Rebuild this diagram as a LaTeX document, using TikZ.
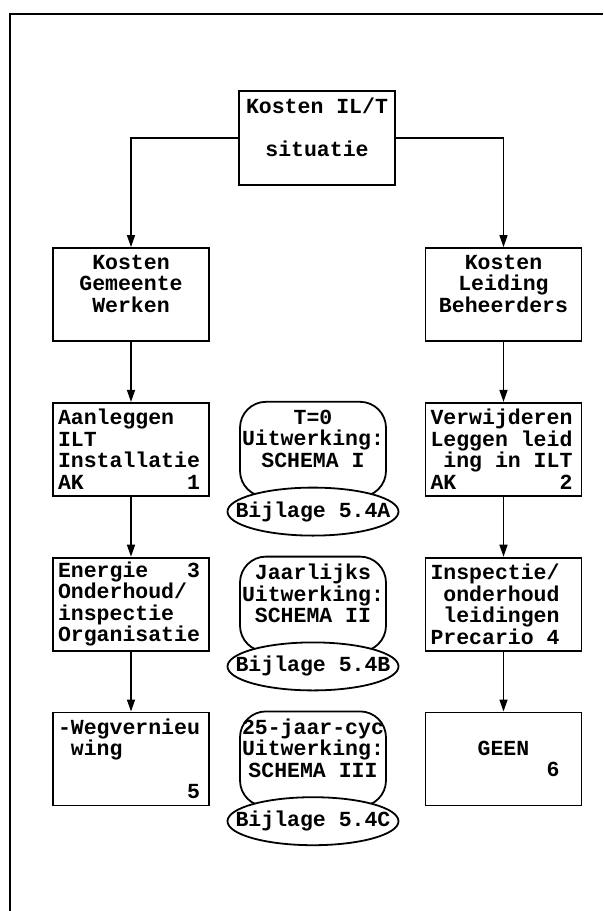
\documentclass[tikz,border=0pt]{standalone}
\usepackage{fontspec}
\setmonofont{Liberation Mono}
\usetikzlibrary{shapes.geometric,arrows.meta,positioning}
% blank typewriter cells
\newcommand\pad[1]{\hspace*{#1\fontcharwd\font`0}}

\begin{document}
\begin{tikzpicture}[x=1pt,y=-1pt,font=\ttfamily\bfseries\fontsize{21.5}{21.5}\selectfont]
  \tikzset{costbox/.style={draw,line width=1.8pt,minimum width=156pt,minimum height=#1,inner xsep=5pt,inner ysep=0pt,text width=146pt},
    costbox/.default=93pt,
    bubble/.style={draw,line width=1.8pt,rounded corners=26pt,minimum width=146pt,minimum height=95pt,inner sep=0pt,align=center},
    annex/.style={draw,fill=white,ellipse,line width=1.8pt,minimum width=171pt,minimum height=48pt,inner sep=0pt},
    arr/.style={-{Triangle[width=8pt,length=12pt]},line width=1.5pt}}
  \useasboundingbox (0,0) rectangle (603,911);
  % frame
  \draw[line width=2pt] (10,911) |- (603,14);
  % top and first row
  \node[costbox=94pt,align=center] (top) at (317,138) {Kosten\pad{1}IL/T\\\mbox{}\\situatie\\\mbox{}};
  \node[costbox,align=center] (gw) at (131,294.5) {Kosten\\Gemeente\\Werken\\\mbox{}};
  \node[costbox,align=center] (lb) at (503.5,294.5) {Kosten\\Leiding\\Beheerders\\\mbox{}};
  % left column
  \node[costbox,align=left,below=60pt of gw] (aan) {Aanleggen\\ILT\\Installatie\\AK\pad{8}1};
  \node[costbox,align=left,below=60pt of aan] (energie) {Energie\pad{3}3\\Onderhoud/\\inspectie\\Organisatie};
  \node[costbox,align=left,below=60pt of energie] (weg) {-Wegvernieu\\\pad{1}wing\\\mbox{}\\\pad{10}5};
  % right column
  \node[costbox,align=left,below=60pt of lb] (verw) {Verwijderen\\Leggen\pad{1}leid\\\pad{1}ing\pad{1}in\pad{1}ILT\\AK\pad{8}2};
  \node[costbox,align=left,below=60pt of verw] (insp) {Inspectie/\\\pad{1}onderhoud\\\pad{1}leidingen\\Precario\pad{1}4};
  \node[costbox,align=left,below=60pt of insp] (geen) {\makebox[146pt]{GEEN}\\\pad{9}6};
  % middle bubbles
  \coordinate (mid) at (313,0);
  \node[bubble] (t0) at (aan -| mid) {T=0\\Uitwerking:\\SCHEMA\pad{1}I\\\mbox{}};
  \node[annex,below=-11pt of t0] (bijA) {\makebox[0pt]{Bijlage\pad{1}5.4A}};
  \node[bubble] (jaar) at (energie -| mid) {Jaarlijks\\Uitwerking:\\SCHEMA\pad{1}II\\\mbox{}};
  \node[annex,below=-11pt of jaar] (bijB) {\makebox[0pt]{Bijlage\pad{1}5.4B}};
  \node[bubble] (cyc) at (weg -| mid) {25-jaar-cyc\\Uitwerking:\\SCHEMA\pad{1}III\\\mbox{}};
  \node[annex,below=-11pt of cyc] (bijC) {\makebox[0pt]{Bijlage\pad{1}5.4C}};
  % connectors
  \draw[arr] (top.west) -| (gw.north);
  \draw[arr] (top.east) -| (lb.north);
  \draw[arr] (gw.south) -- (aan.north);
  \draw[arr] (aan.south) -- (energie.north);
  \draw[arr] (energie.south) -- (weg.north);
  \draw[arr] (lb.south) -- (verw.north);
  \draw[arr] (verw.south) -- (insp.north);
  \draw[arr] (insp.south) -- (geen.north);
\end{tikzpicture}
\end{document}
